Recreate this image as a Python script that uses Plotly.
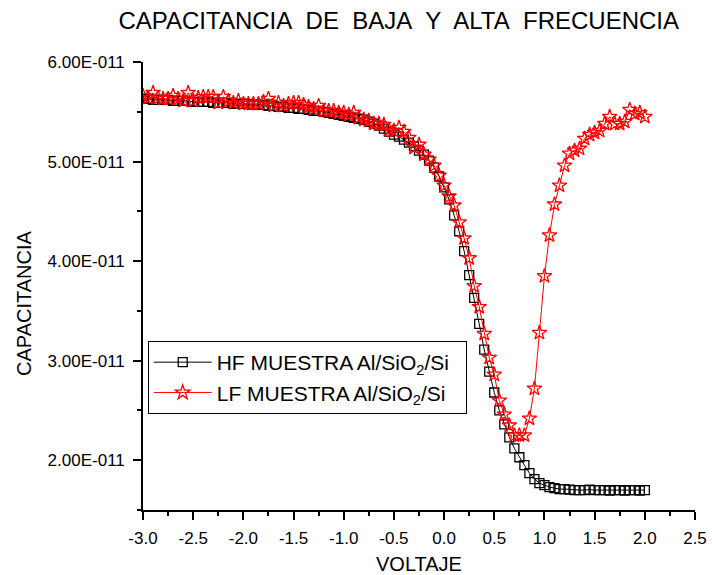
import plotly.graph_objects as go

voltage = [-3.00, -2.95, -2.90, -2.85, -2.80, -2.75, -2.70, -2.65, -2.60, -2.55,
           -2.50, -2.45, -2.40, -2.35, -2.30, -2.25, -2.20, -2.15, -2.10, -2.05,
           -2.00, -1.95, -1.90, -1.85, -1.80, -1.75, -1.70, -1.65, -1.60, -1.55,
           -1.50, -1.45, -1.40, -1.35, -1.30, -1.25, -1.20, -1.15, -1.10, -1.05,
           -1.00, -0.95, -0.90, -0.85, -0.80, -0.75, -0.70, -0.65, -0.60, -0.55,
           -0.50, -0.45, -0.40, -0.35, -0.30, -0.25, -0.20, -0.15, -0.10, -0.05,
           0.00, 0.05, 0.10, 0.15, 0.20, 0.25, 0.30, 0.35, 0.40, 0.45,
           0.50, 0.55, 0.60, 0.65, 0.70, 0.75, 0.80, 0.85, 0.90, 0.95,
           1.00, 1.05, 1.10, 1.15, 1.20, 1.25, 1.30, 1.35, 1.40, 1.45,
           1.50, 1.55, 1.60, 1.65, 1.70, 1.75, 1.80, 1.85, 1.90, 1.95, 2.00]

# capacitance in units of 1e-11 F
hf_cap = [5.63, 5.63, 5.62, 5.62, 5.62, 5.62, 5.61, 5.61, 5.61, 5.61,
          5.60, 5.60, 5.60, 5.60, 5.59, 5.59, 5.59, 5.59, 5.58, 5.58,
          5.58, 5.58, 5.57, 5.57, 5.57, 5.56, 5.56, 5.55, 5.55, 5.54,
          5.54, 5.53, 5.53, 5.52, 5.51, 5.51, 5.50, 5.49, 5.48, 5.47,
          5.46, 5.45, 5.44, 5.43, 5.42, 5.40, 5.38, 5.36, 5.33, 5.30,
          5.27, 5.25, 5.22, 5.19, 5.155, 5.11, 5.07, 5.01, 4.94, 4.85,
          4.74, 4.62, 4.46, 4.30, 4.10, 3.86, 3.63, 3.37, 3.11, 2.89,
          2.68, 2.50, 2.36, 2.23, 2.12, 2.03, 1.95, 1.87, 1.81, 1.77,
          1.75, 1.73, 1.72, 1.71, 1.71, 1.705, 1.70, 1.70, 1.70, 1.705,
          1.70, 1.70, 1.70, 1.695, 1.70, 1.70, 1.695, 1.70, 1.70, 1.695, 1.70]

lf_cap = [5.66, 5.64, 5.69, 5.64, 5.63, 5.63, 5.66, 5.63, 5.61, 5.69,
          5.61, 5.64, 5.65, 5.65, 5.65, 5.59, 5.65, 5.61, 5.59, 5.61,
          5.58, 5.58, 5.58, 5.58, 5.60, 5.63, 5.56, 5.59, 5.56, 5.58,
          5.59, 5.59, 5.57, 5.55, 5.53, 5.56, 5.51, 5.51, 5.51, 5.49,
          5.49, 5.47, 5.49, 5.44, 5.42, 5.41, 5.38, 5.38, 5.37, 5.32,
          5.31, 5.34, 5.30, 5.24, 5.14, 5.17, 5.07, 5.02, 4.96, 4.86,
          4.76, 4.65, 4.56, 4.39, 4.23, 4.03, 3.75, 3.54, 3.27, 3.03,
          2.86, 2.60, 2.46, 2.35, 2.25, 2.25, 2.25, 2.42, 2.72, 3.28,
          3.85, 4.26, 4.57, 4.76, 4.96, 5.08, 5.11, 5.13, 5.23, 5.27,
          5.29, 5.31, 5.38, 5.45, 5.38, 5.38, 5.40, 5.52, 5.48, 5.49, 5.45]

y_tickvals = [2e-11, 3e-11, 4e-11, 5e-11, 6e-11]
y_ticktext = ["2.00E-011", "3.00E-011", "4.00E-011", "5.00E-011", "6.00E-011"]
x_tickvals = [-3.0, -2.5, -2.0, -1.5, -1.0, -0.5, 0.0, 0.5, 1.0, 1.5, 2.0, 2.5]
x_ticktext = ["-3.0", "-2.5", "-2.0", "-1.5", "-1.0", "-0.5", "0.0", "0.5", "1.0", "1.5", "2.0", "2.5"]

FONT = "Arial, Liberation Sans, sans-serif"
W, H = 712, 575
ML, MR, MT, MB = 143, 17, 62, 65
PW, PH = W - ML - MR, H - MT - MB

fig = go.Figure()
fig.add_trace(go.Scatter(
    x=voltage, y=[v * 1e-11 for v in hf_cap], mode="lines+markers",
    name="HF MUESTRA Al/SiO<sub>2</sub>/Si\u00a0\u00a0",
    line=dict(color="black", width=1),
    marker=dict(symbol="square-open", size=9, color="black", line=dict(width=1.3)),
))
fig.add_trace(go.Scatter(
    x=voltage, y=[v * 1e-11 for v in lf_cap], mode="lines+markers",
    name="LF MUESTRA Al/SiO<sub>2</sub>/Si\u00a0\u00a0",
    line=dict(color="red", width=1),
    marker=dict(symbol="star-open", size=11, color="red", line=dict(width=1.3)),
))

fig.update_layout(
    width=W, height=H,
    paper_bgcolor="white", plot_bgcolor="white",
    margin=dict(l=ML, r=MR, t=MT, b=MB, autoexpand=False),
    font=dict(family=FONT, size=17, color="black"),
    title=dict(text="CAPACITANCIA\u00a0 DE\u00a0 BAJA\u00a0 Y\u00a0 ALTA\u00a0 FRECUENCIA",
               x=0.56, xanchor="center", y=1 - 21 / H, yanchor="middle",
               font=dict(family=FONT, size=24, color="black")),
    showlegend=True,
    legend=dict(x=(147.7 - ML) / PW, y=(H - MB - 341) / PH,
                xanchor="left", yanchor="top",
                bordercolor="black", borderwidth=1, bgcolor="white",
                font=dict(family=FONT, size=21, color="black"),
                itemwidth=58, tracegroupgap=0),
    annotations=[
        dict(text="VOLTAJE", xref="paper", yref="paper",
             x=0.5, y=-(564 - (H - MB)) / PH,
             xanchor="center", yanchor="middle", showarrow=False,
             font=dict(family=FONT, size=20, color="black")),
        dict(text="CAPACITANCIA", xref="paper", yref="paper", textangle=-90,
             x=-(ML - 24) / PW, y=(H - MB - 303) / PH,
             xanchor="center", yanchor="middle", showarrow=False,
             font=dict(family=FONT, size=20, color="black")),
    ],
)
fig.update_xaxes(
    range=[-3.0, 2.5], tickvals=x_tickvals, ticktext=x_ticktext, automargin=False,
    showline=True, linecolor="black", linewidth=1.6, mirror=False,
    ticks="outside", ticklen=8, tickwidth=1.6, tickcolor="black",
    minor=dict(dtick=0.25, tick0=0, ticks="outside", ticklen=4, tickwidth=1.6, tickcolor="black"),
    showgrid=False, zeroline=False,
    tickfont=dict(family=FONT, size=17), ticklabelstandoff=4,
)
fig.update_yaxes(
    range=[1.5e-11, 6.0e-11], tickvals=y_tickvals, ticktext=y_ticktext, automargin=False,
    showline=True, linecolor="black", linewidth=1.6, mirror=False,
    ticks="outside", ticklen=8, tickwidth=1.6, tickcolor="black",
    minor=dict(tickvals=[1.5e-11, 2.5e-11, 3.5e-11, 4.5e-11, 5.5e-11],
               ticks="outside", ticklen=4, tickwidth=1.6, tickcolor="black"),
    showgrid=False, zeroline=False,
    tickfont=dict(family=FONT, size=17), ticklabelstandoff=5,
)

fig.write_html("out.html", config={"displayModeBar": False},
               post_script="document.body.style.margin='0px';")
